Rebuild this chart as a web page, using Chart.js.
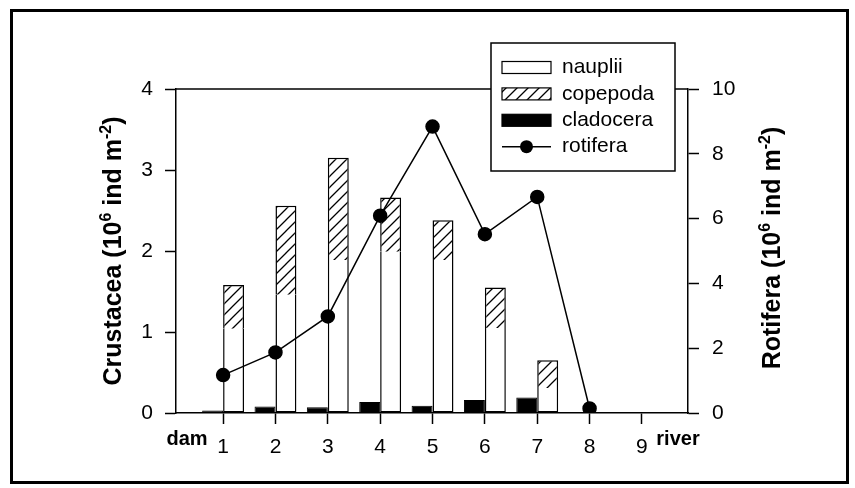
<!DOCTYPE html>
<html>
<head>
<meta charset="utf-8">
<script src="https://cdn.jsdelivr.net/npm/chart.js@4.4.0/dist/chart.umd.min.js"></script>
<style>
  html, body { margin: 0; padding: 0; background: #fff; }
  #wrap { width: 855px; height: 488px; }
</style>
</head>
<body>
<div id="wrap"><canvas id="chart" width="855" height="488"></canvas></div>
<script>
// Zooplankton along the reservoir, from the dam (left) to the river inflow (right)
const stations    = [1, 2, 3, 4, 5, 6, 7, 8, 9];
const barStations = [1, 2, 3, 4, 5, 6, 7];
const nauplii     = [1.04, 1.46, 1.89, 1.99, 1.89, 1.05, 0.31];
const copepoda    = [0.54, 1.10, 1.26, 0.67, 0.49, 0.50, 0.34];
const cladocera   = [0.03, 0.08, 0.07, 0.135, 0.09, 0.16, 0.19];
const rotStations = [1, 2, 3, 4, 5, 6, 7, 8];
const rotifera    = [1.17, 1.87, 2.98, 6.09, 8.84, 5.52, 6.67, 0.14];
const legendOrder = ['nauplii', 'copepoda', 'cladocera', 'rotifera'];

const FONT = "Arial, 'Liberation Sans', sans-serif";
Chart.defaults.font.family = FONT;
Chart.defaults.font.size = 21;
Chart.defaults.color = '#000';

function xy(xs, ys) {
  return xs.map((x, i) => ({ x: x, y: ys[i] }));
}

// diagonal hatch for copepoda
function makeHatch() {
  const c = document.createElement('canvas');
  c.width = 11; c.height = 11;
  const p = c.getContext('2d');
  p.fillStyle = '#fff';
  p.fillRect(0, 0, 11, 11);
  p.strokeStyle = '#000';
  p.lineWidth = 1.3;
  p.beginPath();
  p.moveTo(-2, 13); p.lineTo(13, -2);
  p.moveTo(-2, 2); p.lineTo(2, -2);
  p.moveTo(9, 13); p.lineTo(13, 9);
  p.stroke();
  return p.createPattern(c, 'repeat');
}
const hatch = makeHatch();

// draws text with superscript parts, centred at (cx, cy), rotated
function drawRich(ctx, parts, cx, cy, angle) {
  const big = 'bold 25px ' + FONT, small = 'bold 16px ' + FONT;
  let w = 0;
  parts.forEach(p => { ctx.font = p.sup ? small : big; w += ctx.measureText(p.t).width; });
  ctx.save();
  ctx.translate(cx, cy);
  ctx.rotate(angle);
  ctx.textBaseline = 'alphabetic';
  ctx.textAlign = 'left';
  let x = -w / 2;
  parts.forEach(p => {
    ctx.font = p.sup ? small : big;
    ctx.fillText(p.t, x, p.sup ? -1 : 9);
    x += ctx.measureText(p.t).width;
  });
  ctx.restore();
}

const decor = {
  id: 'decor',
  beforeDraw(chart) {
    const ctx = chart.ctx;
    ctx.save();
    ctx.fillStyle = '#fff';
    ctx.fillRect(0, 0, chart.width, chart.height);
    ctx.strokeStyle = '#000';
    ctx.lineWidth = 3;
    ctx.strokeRect(11.5, 10.5, 836, 472);
    ctx.restore();
  },
  afterDraw(chart) {
    const ctx = chart.ctx;
    const a = chart.chartArea;
    ctx.save();
    // top frame line
    ctx.strokeStyle = '#000';
    ctx.lineWidth = 1.5;
    ctx.beginPath();
    ctx.moveTo(a.left, a.top); ctx.lineTo(a.right, a.top);
    ctx.stroke();

    // end labels of the x axis
    ctx.fillStyle = '#000';
    ctx.font = 'bold 20px ' + FONT;
    ctx.textAlign = 'center';
    ctx.textBaseline = 'middle';
    ctx.fillText('dam', a.left + 11, a.bottom + 26);
    ctx.fillText('river', a.right - 10, a.bottom + 26);

    // axis titles
    drawRich(ctx, [{t: 'Crustacea (10'}, {t: '6', sup: true}, {t: ' ind m'}, {t: '-2', sup: true}, {t: ')'}],
      a.left - 64, (a.top + a.bottom) / 2, -Math.PI / 2);
    drawRich(ctx, [{t: 'Rotifera (10'}, {t: '6', sup: true}, {t: ' ind m'}, {t: '-2', sup: true}, {t: ')'}],
      a.right + 83, (a.top + a.bottom) / 2 - 3, -Math.PI / 2);

    // legend box
    const L = a.right - 197, R = a.right - 13, T = a.top - 46, B = a.top + 82;
    ctx.fillStyle = '#fff';
    ctx.fillRect(L, T, R - L, B - T);
    ctx.strokeStyle = '#000';
    ctx.lineWidth = 1.5;
    ctx.strokeRect(L, T, R - L, B - T);
    const sx = L + 11, sw = 49, sh = 12;
    ctx.font = '21px ' + FONT;
    ctx.textAlign = 'left';
    ctx.textBaseline = 'middle';
    legendOrder.forEach((name, i) => {
      const ds = chart.data.datasets.find(d => d.label === name);
      const cy = T + 24.5 + i * 26.4;
      if (ds.type === 'line') {
        ctx.strokeStyle = ds.borderColor;
        ctx.lineWidth = ds.borderWidth;
        ctx.beginPath();
        ctx.moveTo(sx, cy); ctx.lineTo(sx + sw, cy);
        ctx.stroke();
        ctx.fillStyle = ds.pointBackgroundColor;
        ctx.beginPath();
        ctx.arc(sx + sw / 2, cy, ds.pointRadius, 0, Math.PI * 2);
        ctx.fill();
      } else {
        ctx.fillStyle = ds.backgroundColor;
        ctx.fillRect(sx, cy - sh / 2, sw, sh);
        ctx.strokeStyle = '#000';
        ctx.lineWidth = 1.2;
        ctx.strokeRect(sx, cy - sh / 2, sw, sh);
      }
      ctx.fillStyle = '#000';
      ctx.fillText(name, sx + sw + 11, cy);
    });
    ctx.restore();
  }
};

new Chart(document.getElementById('chart'), {
  type: 'bar',
  data: {
    datasets: [
      {
        label: 'cladocera',
        data: xy(barStations, cladocera),
        backgroundColor: '#000',
        borderColor: '#000',
        borderWidth: 1,
        stack: 'clad',
        yAxisID: 'y',
        order: 1
      },
      {
        label: 'nauplii',
        data: xy(barStations, nauplii),
        backgroundColor: '#fff',
        borderColor: '#000',
        borderWidth: 1.5,
        borderSkipped: 'top',
        stack: 'crust',
        yAxisID: 'y',
        order: 1
      },
      {
        label: 'copepoda',
        data: xy(barStations, copepoda),
        backgroundColor: hatch,
        borderColor: '#000',
        borderWidth: 1.5,
        borderSkipped: 'bottom',
        stack: 'crust',
        yAxisID: 'y',
        order: 1
      },
      {
        type: 'line',
        label: 'rotifera',
        data: xy(rotStations, rotifera),
        borderColor: '#000',
        borderWidth: 1.5,
        pointRadius: 6.5,
        pointBackgroundColor: '#000',
        pointBorderColor: '#000',
        tension: 0,
        yAxisID: 'y1',
        order: 0
      }
    ]
  },
  options: {
    responsive: false,
    animation: false,
    layout: { padding: { top: 89, left: 0, right: 0, bottom: 0 } },
    datasets: { bar: { barPercentage: 1, categoryPercentage: 0.8 } },
    plugins: {
      legend: { display: false },
      tooltip: { enabled: false }
    },
    scales: {
      x: {
        type: 'linear',
        min: 0.1,
        max: 9.88,
        offset: false,
        afterBuildTicks: s => { s.ticks = stations.map(v => ({ value: v })); },
        afterFit: s => { s.height = 75; },
        ticks: { padding: 11, font: { size: 21 }, maxRotation: 0 },
        grid: { drawOnChartArea: false, offset: false, tickLength: 11, tickColor: '#000', tickWidth: 1.5 },
        border: { color: '#000', width: 1.5 }
      },
      y: {
        position: 'left',
        min: 0,
        max: 4,
        afterFit: s => { s.width = 176; },
        ticks: { stepSize: 1, padding: 12, font: { size: 21 } },
        grid: { drawOnChartArea: false, tickLength: 11, tickColor: '#000', tickWidth: 1.5 },
        border: { color: '#000', width: 1.5 }
      },
      y1: {
        position: 'right',
        min: 0,
        max: 10,
        afterFit: s => { s.width = 855 - 688; },
        ticks: { stepSize: 2, padding: 13, font: { size: 21 } },
        grid: { drawOnChartArea: false, tickLength: 11, tickColor: '#000', tickWidth: 1.5 },
        border: { color: '#000', width: 1.5 }
      }
    }
  },
  plugins: [decor]
});
</script>
</body>
</html>
